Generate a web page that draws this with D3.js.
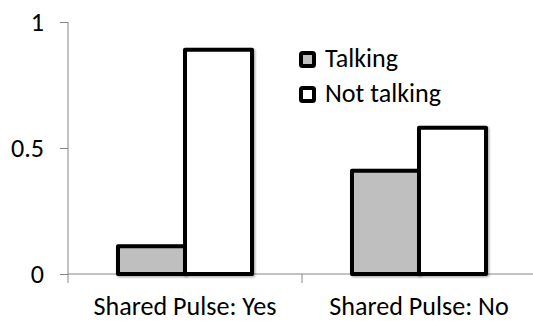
<!DOCTYPE html>
<html>
<head>
<meta charset="utf-8">
<script src="https://cdn.jsdelivr.net/npm/d3@7"></script>
<style>
  html, body { margin: 0; padding: 0; background: #fff; }
  svg { display: block; }
  text { font-family: Carlito, Lato, "Open Sans", sans-serif; fill: #000; }
</style>
</head>
<body>
<svg id="chart" width="533" height="321"></svg>
<script>
// Proportion of pulses, grouped by whether the pulse was shared
const categories = ["Shared Pulse: Yes", "Shared Pulse: No"];
const seriesNames = ["Talking", "Not talking"];
const talking = [0.11, 0.41];
const notTalking = [0.89, 0.58];
const yTicks = [0, 0.5, 1];
const yTickLabels = ["0", "0.5", "1"];

const fills = { "Talking": "#bfbfbf", "Not talking": "#ffffff" };
const values = { "Talking": talking, "Not talking": notTalking };

const svg = d3.select("#chart");

// pick a font size so the category labels come out at a Calibri-like width
const probe = svg.append("text").style("font-size", "24px").text(categories[0]);
const probeW = probe.node().getComputedTextLength() || 170;
probe.remove();
const fontSize = Math.round(24 * 183 / probeW * 10) / 10;

const x0 = d3.scaleBand().domain(categories).range([68, 536]).paddingInner(0).paddingOuter(0);
const x1 = d3.scaleBand().domain(seriesNames).range([0, x0.bandwidth()]).paddingInner(0).paddingOuter(0.746);
const y = d3.scaleLinear().domain([0, 1]).range([274, 22]);

// drop shadow behind the bars
const defs = svg.append("defs");
const f = defs.append("filter").attr("id", "shadow").attr("x", "-10%").attr("y", "-10%").attr("width", "130%").attr("height", "130%");
f.append("feDropShadow").attr("dx", 1.2).attr("dy", 1.2).attr("stdDeviation", 1.2).attr("flood-color", "#000").attr("flood-opacity", 0.35);

// y axis
const yAxis = d3.axisLeft(y).tickValues(yTicks).tickFormat((d, i) => yTickLabels[i]).tickSize(8).tickPadding(16);
const gy = svg.append("g").attr("transform", "translate(68,0)").call(yAxis);
gy.select(".domain").remove();
gy.selectAll(".tick line").attr("stroke", "#868686");
gy.selectAll(".tick text").style("font-size", fontSize + "px").attr("fill", "#000");
gy.append("line").attr("x1", 0).attr("x2", 0).attr("y1", y(1)).attr("y2", y(0) + 9).attr("stroke", "#868686");

// x axis
const gx = svg.append("g").attr("transform", `translate(0,${y(0)})`);
gx.append("line").attr("x1", 68).attr("x2", 533).attr("y1", 0).attr("y2", 0).attr("stroke", "#868686");
const bounds = categories.map(c => x0(c)).concat([x0(categories[categories.length - 1]) + x0.bandwidth()]);
gx.selectAll("line.tk").data(bounds.slice(1)).join("line").attr("class", "tk")
  .attr("x1", d => d).attr("x2", d => d).attr("y1", 0).attr("y2", 9).attr("stroke", "#868686");
gx.selectAll("text.cat").data(categories).join("text").attr("class", "cat")
  .attr("x", d => x0(d) + x0.bandwidth() / 2).attr("y", 41)
  .attr("text-anchor", "middle").style("font-size", fontSize + "px").text(d => d);

// bars
const groups = svg.append("g").selectAll("g").data(categories).join("g")
  .attr("transform", d => `translate(${x0(d)},0)`);
groups.selectAll("rect").data((c, ci) => seriesNames.map(s => ({ s, v: values[s][ci] })))
  .join("rect")
  .attr("x", d => x1(d.s)).attr("width", x1.bandwidth())
  .attr("y", d => y(d.v)).attr("height", d => y(0) - y(d.v))
  .attr("fill", d => fills[d.s]).attr("stroke", "#000").attr("stroke-width", 4)
  .attr("stroke-linejoin", "round").attr("filter", "url(#shadow)");

// legend
const legend = svg.append("g").attr("transform", "translate(301,53)");
const items = legend.selectAll("g").data(seriesNames).join("g").attr("transform", (d, i) => `translate(0,${i * 35})`);
items.append("rect").attr("x", 0).attr("y", 0).attr("width", 13).attr("height", 13).attr("rx", 1.5)
  .attr("fill", d => fills[d]).attr("stroke", "#000").attr("stroke-width", 4);
items.append("text").attr("x", 24).attr("y", 14).style("font-size", fontSize + "px").text(d => d);
</script>
</body>
</html>
